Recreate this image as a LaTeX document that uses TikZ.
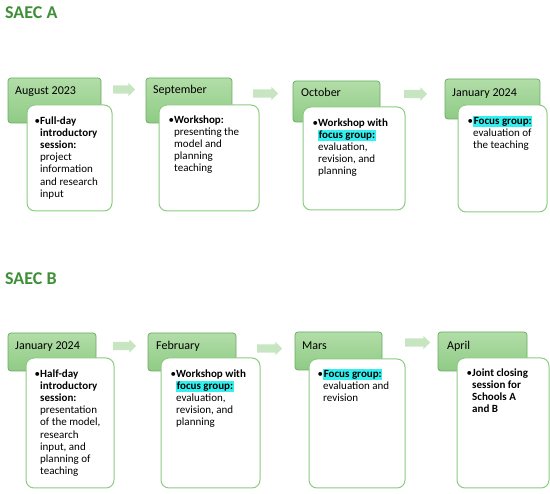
\documentclass[tikz,border=0pt]{standalone}
\usepackage{fontspec}
\setmainfont{Carlito}
\usetikzlibrary{shapes.arrows}
\definecolor{hdrtop}{HTML}{B2DDA8}
\definecolor{hdrbot}{HTML}{8FCB85}
\definecolor{hdrline}{HTML}{6AAA62}
\definecolor{bodyline}{HTML}{8DCB82}
\definecolor{arrowcol}{HTML}{C8E5C2}
\definecolor{titlegreen}{HTML}{3F8F38}
\definecolor{hl}{HTML}{33F0F0}
\newcommand{\hlt}[1]{{\setlength{\fboxsep}{0.6pt}\colorbox{hl}{#1}}}
\tikzset{
  hdr/.style={draw=hdrline, line width=0.7pt, top color=hdrtop, bottom color=hdrbot, rounded corners=3pt},
  bodybox/.style={draw=bodyline, line width=1pt, fill=white, rounded corners=8pt},
  flowarrow/.style={single arrow, fill=arrowcol, draw=none, inner xsep=0pt, inner ysep=4pt, text height=0pt, text depth=0pt, single arrow head extend=2.5pt, single arrow head indent=0pt},
  hdrtext/.style={anchor=base west, inner sep=0pt, font=\fontsize{12}{14}\selectfont},
  bodytext/.style={anchor=north west, inner sep=0pt, align=left, font=\fontsize{11}{12.2}\selectfont, yshift=8.54pt},
  title/.style={anchor=base west, inner sep=0pt, font=\fontsize{18}{20}\selectfont\bfseries, text=titlegreen}
}
\begin{document}
\begin{tikzpicture}[x=1pt,y=-1pt]
\useasboundingbox (0,0) rectangle (550,494);
% titles
\node[title] (tA) at (5,18.5) {SAEC A};
\node[title] (tB) at (5,285) {SAEC B};
% Row A
\draw[hdr] (8,78) rectangle (101,123) node[pos=0,anchor=north west,inner sep=0] (hA1) {};
\draw[bodybox] (27,105) rectangle (112,211) node[pos=0,anchor=north west,inner sep=0] (bA1) {};
\draw[hdr] (146,78) rectangle (232,123) node[pos=0,anchor=north west,inner sep=0] (hA2) {};
\draw[bodybox] (159,105) rectangle (259,211) node[pos=0,anchor=north west,inner sep=0] (bA2) {};
\draw[hdr] (293,81) rectangle (380,122) node[pos=0,anchor=north west,inner sep=0] (hA3) {};
\draw[bodybox] (303,107) rectangle (405,210) node[pos=0,anchor=north west,inner sep=0] (bA3) {};
\draw[hdr] (445,79) rectangle (540,119) node[pos=0,anchor=north west,inner sep=0] (hA4) {};
\draw[bodybox] (458,105) rectangle (547,212) node[pos=0,anchor=north west,inner sep=0] (bA4) {};
\node[flowarrow, minimum height=22pt] (aA1) at (122,89.5) {};
\node[flowarrow, minimum height=25pt] (aA2) at (263.5,93.5) {};
\node[flowarrow, minimum height=23pt] (aA3) at (413.5,94) {};
\node[hdrtext] (lA1) at (15,95) {August 2023};
\node[hdrtext] (lA2) at (153,94) {September};
\node[hdrtext] (lA3) at (301,97) {October};
\node[hdrtext] (lA4) at (452,97) {January 2024};
\node[bodytext] (xA1) at (40,124) {\strut\llap{•}\textbf{Full-day}\\\textbf{introductory}\\\textbf{session:}\\project\\information\\and research\\input};
\node[bodytext] (xA2) at (174,123) {\strut\llap{•}\textbf{Workshop:}\\presenting the\\model and\\planning\\teaching};
\node[bodytext] (xA3) at (318,126) {\strut\llap{•}\textbf{Workshop with}\\\hlt{\textbf{focus group:}}\\evaluation,\\revision, and\\planning};
\node[bodytext] (xA4) at (473,124) {\strut\llap{•}\hlt{\textbf{Focus group:}}\\evaluation of\\the teaching};
% Row B
\draw[hdr] (8,333) rectangle (96,371) node[pos=0,anchor=north west,inner sep=0] (hB1) {};
\draw[bodybox] (26,358) rectangle (114,488) node[pos=0,anchor=north west,inner sep=0] (bB1) {};
\draw[hdr] (148,333) rectangle (236,371) node[pos=0,anchor=north west,inner sep=0] (hB2) {};
\draw[bodybox] (161,358) rectangle (260,488) node[pos=0,anchor=north west,inner sep=0] (bB2) {};
\draw[hdr] (295,332) rectangle (382,370) node[pos=0,anchor=north west,inner sep=0] (hB3) {};
\draw[bodybox] (309,359) rectangle (405,488) node[pos=0,anchor=north west,inner sep=0] (bB3) {};
\draw[hdr] (438,332) rectangle (527,371) node[pos=0,anchor=north west,inner sep=0] (hB4) {};
\draw[bodybox] (457,358) rectangle (549,488) node[pos=0,anchor=north west,inner sep=0] (bB4) {};
\node[flowarrow, minimum height=23pt] (aB1) at (122.5,346) {};
\node[flowarrow, minimum height=25pt] (aB2) at (267.5,348.5) {};
\node[flowarrow, minimum height=25pt] (aB3) at (415.5,342.5) {};
\node[hdrtext] (lB1) at (15,350) {January 2024};
\node[hdrtext] (lB2) at (156,350) {February};
\node[hdrtext] (lB3) at (302,350) {Mars};
\node[hdrtext] (lB4) at (447,350) {April};
\node[bodytext] (xB1) at (40,377) {\strut\llap{•}\textbf{Half-day}\\\textbf{introductory}\\\textbf{session:}\\presentation\\of the model,\\research\\input, and\\planning of\\teaching};
\node[bodytext] (xB2) at (176,377) {\strut\llap{•}\textbf{Workshop with}\\\hlt{\textbf{focus group:}}\\evaluation,\\revision, and\\planning};
\node[bodytext] (xB3) at (323,377) {\strut\llap{•}\hlt{\textbf{Focus group:}}\\evaluation and\\revision};
\node[bodytext] (xB4) at (472,376) {\strut\llap{•}\textbf{Joint closing}\\\textbf{session for}\\\textbf{Schools A}\\\textbf{and B}};
\end{tikzpicture}
\end{document}
